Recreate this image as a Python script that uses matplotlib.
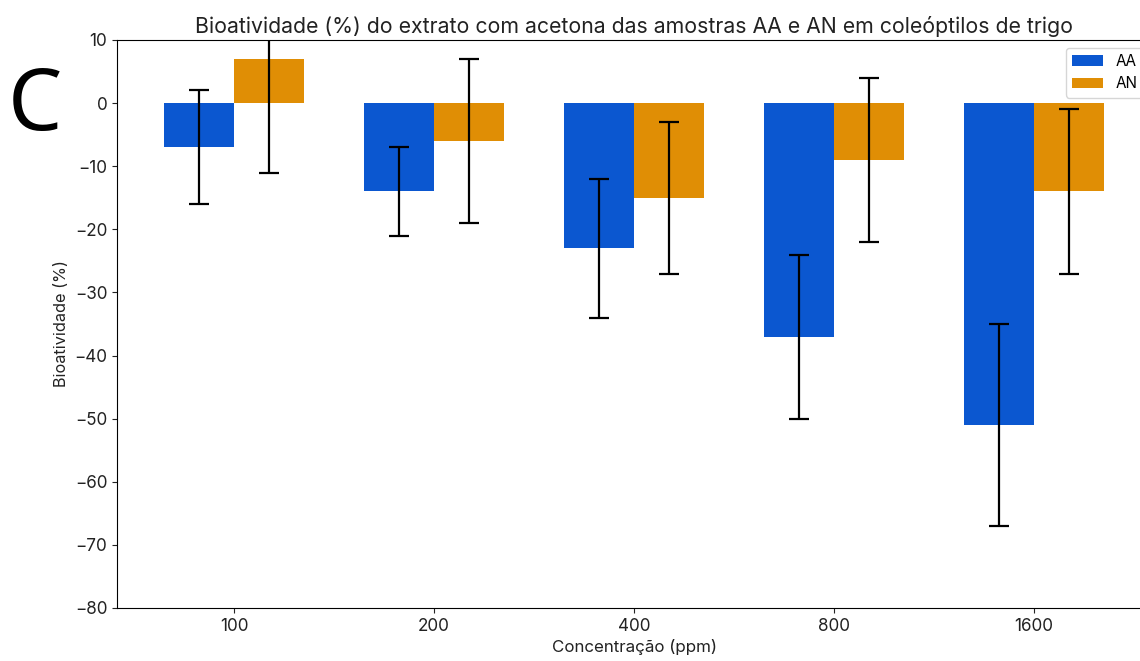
import numpy as np
import matplotlib
matplotlib.use("Agg")
from matplotlib import pyplot as plt

# bioactivity of the acetone extract per concentration
concentrations = ["100", "200", "400", "800", "1600"]
aa_mean = [-7, -14, -23, -37, -51]
aa_err = [9, 7, 11, 13, 16]
an_mean = [7, -6, -15, -9, -14]
an_err = [18, 13, 12, 13, 13]

BLUE = "#0b57d0"
ORANGE = "#e08e05"

plt.rcParams['font.family'] = ['Inter', 'DejaVu Sans']

fig = plt.figure(figsize=(11.4, 6.61), dpi=100)
# axes run past the right edge of the canvas
ax = fig.add_axes([117 / 1140, 53 / 661, 1034 / 1140, 568 / 661])

x = np.arange(len(concentrations))
width = 0.35
ax.bar(x - width / 2, aa_mean, width, color=BLUE, label="AA",
       yerr=aa_err, capsize=7, error_kw=dict(elinewidth=1.6, capthick=1.6, ecolor="black"))
ax.bar(x + width / 2, an_mean, width, color=ORANGE, label="AN",
       yerr=an_err, capsize=7, error_kw=dict(elinewidth=1.6, capthick=1.6, ecolor="black"))

ax.set_ylim(-80, 10)
ax.set_xlim(-0.585, 4.585)
ax.set_yticks(np.arange(-80, 11, 10))
ax.set_xticks(x)
ax.set_xticklabels(concentrations)
ax.tick_params(labelsize=12.3, colors="#222222")
ax.set_xlabel("Concentração (ppm)", fontsize=12.2, color="#222222", labelpad=3)
ax.set_ylabel("Bioatividade (%)", fontsize=11.7, color="#222222")
ax.set_title("Bioatividade (%) do extrato com acetona das amostras AA e AN em coleóptilos de trigo",
             fontsize=15.3, color="#222222", pad=5)
ax.legend(loc="upper right", fontsize=11)

# panel letter
fig.text(8 / 1140, 1 - 108 / 661, "C", fontsize=62, family="Noto Sans", va="center", ha="left")

fig.savefig("out.png", dpi=100)
